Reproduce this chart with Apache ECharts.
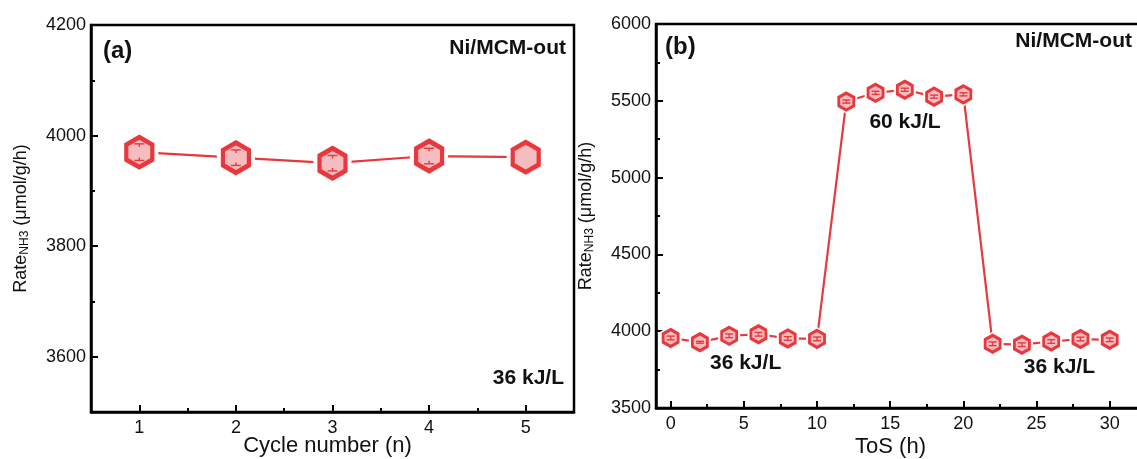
<!DOCTYPE html>
<html>
<head>
<meta charset="utf-8">
<script src="https://cdn.jsdelivr.net/npm/echarts@6/dist/echarts.min.js"></script>
<style>
  html, body { margin: 0; padding: 0; background: #fff; }
  #chart { width: 1137px; height: 459px; }
</style>
</head>
<body>
<div id="chart"></div>
<script>
// Panel (a): NH3 rate over repeated cycles at 36 kJ/L
const cycleNumbers = [1, 2, 3, 4, 5];
const cycleRates = [3970, 3960, 3950, 3963, 3961];
const cycleErrors = [15, 14, 14, 14, 0];

// Panel (b): NH3 rate versus time on stream, SEI switched 36 -> 60 -> 36 kJ/L
const tosHours = [0, 2, 4, 6, 8, 10, 12, 14, 16, 18, 20, 22, 24, 26, 28, 30];
const tosRates = [3956, 3928, 3970, 3980, 3953, 3950, 5495, 5552, 5572, 5527, 5542, 3918, 3912, 3933, 3949, 3944];
const tosErrors = [12, 6, 12, 12, 12, 12, 10, 10, 10, 10, 10, 12, 12, 12, 12, 12];

// Tick positions
const cycleTicks = [1, 2, 3, 4, 5];
const cycleMinorTicks = [1.5, 2.5, 3.5, 4.5];
const rateTicksA = [3600, 3800, 4000, 4200];
const rateMinorTicksA = [3700, 3900, 4100];
const tosTicks = [0, 5, 10, 15, 20, 25, 30];
const tosMinorTicks = [2.5, 7.5, 12.5, 17.5, 22.5, 27.5];
const rateTicksB = [3500, 4000, 4500, 5000, 5500, 6000];
const rateMinorTicksB = [3750, 4250, 4750, 5250, 5750];

const RED = '#e8383d';
const PINK = '#f6bdc0';
const FONT = 'Liberation Sans, Arial, sans-serif';
const HEX = 'path://M0,-1 L0.866,-0.5 L0.866,0.5 L0,1 L-0.866,0.5 L-0.866,-0.5 Z';
const plain = v => String(v);

const yName = '{n|Rate}{s|NH3}{n| (μmol/g/h)}';
const yNameStyle = {
  color: '#111', fontFamily: FONT, fontSize: 18,
  rich: {
    n: { fontSize: 18, fontFamily: FONT, color: '#111' },
    s: { fontSize: 12, fontFamily: FONT, color: '#111', verticalAlign: 'bottom', padding: [7, 0, 0, 0] }
  }
};

function mainX(gridIndex, min, max, ticks, name, gap, shift) {
  return {
    type: 'value', gridIndex, min, max, position: 'bottom',
    name, nameLocation: 'middle', nameGap: gap, nameMoveOverlap: false,
    nameTextStyle: { color: '#111', fontFamily: FONT, fontSize: 22, padding: [0, shift, 0, 0] },
    axisLine: { show: true, onZero: false, lineStyle: { color: '#000', width: 2.5 } },
    axisTick: { show: true, inside: true, length: 7, customValues: ticks, lineStyle: { color: '#000', width: 2 } },
    axisLabel: { show: true, customValues: ticks, formatter: plain, margin: 7, color: '#111', fontFamily: FONT, fontSize: 18 },
    splitLine: { show: false }
  };
}
function minorX(gridIndex, min, max, ticks) {
  return {
    type: 'value', gridIndex, min, max, position: 'bottom',
    axisLine: { show: false, onZero: false },
    axisTick: { show: true, inside: true, length: 4, customValues: ticks, lineStyle: { color: '#000', width: 2 } },
    axisLabel: { show: false },
    splitLine: { show: false }
  };
}
function mainY(gridIndex, min, max, ticks) {
  return {
    type: 'value', gridIndex, min, max, position: 'left',
    name: yName, nameLocation: 'middle', nameGap: 60, nameMoveOverlap: false, nameTextStyle: yNameStyle,
    axisLine: { show: true, onZero: false, lineStyle: { color: '#000', width: 2.5 } },
    axisTick: { show: true, inside: true, length: 7, customValues: ticks, lineStyle: { color: '#000', width: 2 } },
    axisLabel: { show: true, customValues: ticks, formatter: plain, margin: 5, color: '#111', fontFamily: FONT, fontSize: 18 },
    splitLine: { show: false }
  };
}
function minorY(gridIndex, min, max, ticks) {
  return {
    type: 'value', gridIndex, min, max, position: 'left',
    axisLine: { show: false, onZero: false },
    axisTick: { show: true, inside: true, length: 4, customValues: ticks, lineStyle: { color: '#000', width: 2 } },
    axisLabel: { show: false },
    splitLine: { show: false }
  };
}

// Connecting line, white halo (leaves a gap around each symbol), hexagon symbol, error caps
function panelSeries(axisIdx, xs, ys, errs, size, border, halo, capW) {
  const pts = xs.map((x, i) => [x, ys[i]]);
  return [
    {
      type: 'line', xAxisIndex: axisIdx, yAxisIndex: axisIdx, data: pts,
      showSymbol: false, symbol: 'none', z: 2,
      lineStyle: { color: RED, width: 2.2 }, silent: true, animation: false
    },
    {
      type: 'scatter', xAxisIndex: axisIdx, yAxisIndex: axisIdx, data: pts,
      symbol: HEX, symbolSize: [size[0] + halo, size[1] + halo], z: 3,
      itemStyle: { color: '#fff', borderWidth: 0, opacity: 1 }, silent: true, animation: false
    },
    {
      type: 'scatter', xAxisIndex: axisIdx, yAxisIndex: axisIdx, data: pts,
      symbol: HEX, symbolSize: size, z: 4,
      itemStyle: { color: PINK, borderColor: RED, borderWidth: border, opacity: 1 }, silent: true, animation: false
    },
    {
      type: 'custom', xAxisIndex: axisIdx, yAxisIndex: axisIdx, z: 5, silent: true, animation: false,
      data: xs.map((x, i) => [x, ys[i], errs[i]]),
      renderItem(params, api) {
        const x = api.value(0), y = api.value(1), e = api.value(2);
        if (!e) return null;
        const t = api.coord([x, y + e]);
        const b = api.coord([x, y - e]);
        const st = { stroke: RED, lineWidth: 1.4 };
        const h = capW / 2;
        // short stems from each cap toward the centre
        const stem = Math.min(3, (b[1] - t[1]) / 2);
        return {
          type: 'group', children: [
            { type: 'line', shape: { x1: t[0], y1: t[1], x2: t[0], y2: t[1] + stem }, style: st },
            { type: 'line', shape: { x1: b[0], y1: b[1], x2: b[0], y2: b[1] - stem }, style: st },
            { type: 'line', shape: { x1: t[0] - h, y1: t[1], x2: t[0] + h, y2: t[1] }, style: st },
            { type: 'line', shape: { x1: b[0] - h, y1: b[1], x2: b[0] + h, y2: b[1] }, style: st }
          ]
        };
      }
    }
  ];
}

function label(text, x, y, size, align) {
  return {
    type: 'text', x, y, z: 20,
    style: { text, fill: '#111', font: 'bold ' + size + 'px ' + FONT, textAlign: align || 'left', textVerticalAlign: 'middle' }
  };
}

const chart = echarts.init(document.getElementById('chart'), null, { renderer: 'canvas' });
chart.setOption({
  backgroundColor: '#fff',
  animation: false,
  grid: [
    { left: 91, top: 25, width: 483, height: 387, containLabel: false, outerBoundsMode: 'none',
      show: true, borderColor: '#000', borderWidth: 2.5, backgroundColor: 'transparent' },
    { left: 656, top: 24, width: 483, height: 384, containLabel: false, outerBoundsMode: 'none',
      show: true, borderColor: '#000', borderWidth: 2.5, backgroundColor: 'transparent' }
  ],
  xAxis: [
    mainX(0, 0.5, 5.5, cycleTicks, 'Cycle number (n)', 23, 10),
    minorX(0, 0.5, 5.5, cycleMinorTicks),
    mainX(1, -1, 32, tosTicks, 'ToS (h)', 28, 14),
    minorX(1, -1, 32, tosMinorTicks)
  ],
  yAxis: [
    mainY(0, 3500, 4200, rateTicksA),
    minorY(0, 3500, 4200, rateMinorTicksA),
    mainY(1, 3500, 6000, rateTicksB),
    minorY(1, 3500, 6000, rateMinorTicksB)
  ],
  series: [
    ...panelSeries(0, cycleNumbers, cycleRates, cycleErrors, [26, 30], 4.5, 12, 10),
    ...panelSeries(2, tosHours, tosRates, tosErrors, [15, 17], 3, 7, 8)
  ],
  graphic: [
    label('(a)', 103, 51, 24),
    label('Ni/MCM-out', 566, 48, 21, 'right'),
    label('36 kJ/L', 564, 378, 21, 'right'),
    label('(b)', 665, 47, 24),
    label('Ni/MCM-out', 1132, 41, 21, 'right'),
    label('60 kJ/L', 905, 122, 21, 'center'),
    label('36 kJ/L', 710, 363, 21),
    label('36 kJ/L', 1095, 367, 21, 'right')
  ]
});
</script>
</body>
</html>
